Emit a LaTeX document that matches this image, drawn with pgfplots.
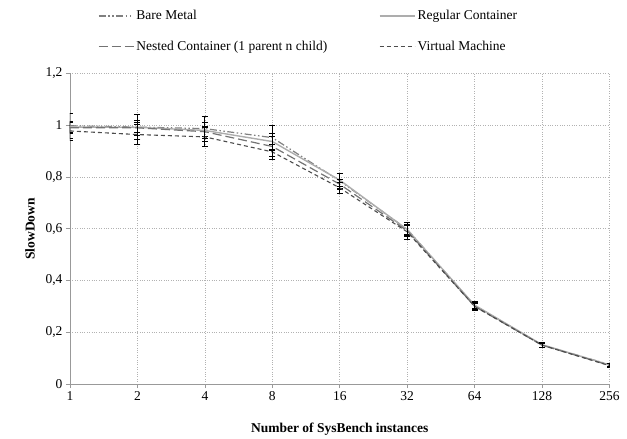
\documentclass[border=0pt]{standalone}
\usepackage{pgfplots}
\usepackage{pgfplotstable}
\pgfplotsset{compat=1.18}
\usepackage{fontspec}
\setmainfont{Liberation Serif}
\newcommand{\fs}{\fontsize{13.5}{16}\selectfont}
\definecolor{bmcol}{gray}{0.5}
\definecolor{rccol}{gray}{0.68}
\definecolor{nccol}{gray}{0.45}
\definecolor{vmcol}{gray}{0.3}
\pgfplotstableread{
x bm bme rc rce nc nce vm vme
0 0.998 0.048 0.993 0.02 0.990 0.02 0.978 0.035
1 0.993 0.047 0.992 0.02 0.990 0.03 0.964 0.038
2 0.987 0.048 0.980 0.03 0.975 0.02 0.955 0.035
3 0.952 0.048 0.937 0.03 0.918 0.04 0.897 0.030
4 0.785 0.030 0.788 0.025 0.772 0.02 0.758 0.022
5 0.598 0.025 0.597 0.02 0.592 0.02 0.588 0.028
6 0.303 0.012 0.305 0.013 0.300 0.012 0.300 0.017
7 0.151 0.008 0.152 0.009 0.150 0.008 0.150 0.010
8 0.075 0.006 0.074 0.006 0.072 0.006 0.071 0.007
}\data
\begin{document}
\begin{tikzpicture}
\begin{axis}[
  scale only axis,
  width=539.5pt, height=310.5pt,
  xmin=0, xmax=8, ymin=0, ymax=1.2,
  xtick={0,...,8},
  xticklabels={1,2,4,8,16,32,64,128,256},
  ytick={0,0.2,0.4,0.6,0.8,1,1.2},
  /pgf/number format/use comma,
  /pgf/number format/assume math mode=true,
  yticklabel style={/pgf/number format/fixed},
  axis x line*=bottom, axis y line*=left,
  axis line style={gray!80, -, line width=0.8pt},
  tick style={gray!80, line width=0.6pt},
  tick align=outside, major tick length=4pt,
  grid=major,
  major grid style={gray!60, dotted, line width=0.7pt},
  ticklabel style={font=\fs},
  xlabel={Number of SysBench instances},
  ylabel={SlowDown},
  label style={font=\fs\bfseries},
  xlabel style={yshift=-15pt},
  ylabel style={yshift=4pt},
  legend columns=2,
  legend cell align=left,
  legend style={draw=none, fill=none, font=\fs, inner sep=0pt,
    at={(0.052,1.0)}, anchor=south west, yshift=19pt,
    row sep=16pt,
    /tikz/every even column/.append style={column sep=50pt}},
  legend image code/.code={\draw[#1] (0pt,0pt) -- (31pt,0pt); \path (0pt,0pt) -- (35pt,0pt);},
  error bars/y dir=both, error bars/y explicit,
  error bars/error bar style={black, line width=1pt, solid},
  error bars/error mark options={rotate=90, mark size=3pt, black, line width=0.8pt, solid},
]
\addplot[bmcol, line width=1.2pt, dash pattern=on 7pt off 2.5pt on 1.5pt off 2.5pt on 1.5pt off 2.5pt]
  table[x=x, y=bm, y error=bme] {\data};
\addlegendentry{Bare Metal}
\addplot[rccol, line width=1.4pt]
  table[x=x, y=rc, y error=rce] {\data};
\addlegendentry{Regular Container}
\addplot[nccol, line width=1.2pt, dash pattern=on 9pt off 4pt]
  table[x=x, y=nc, y error=nce] {\data};
\addlegendentry{Nested Container (1 parent n child)}
\addplot[vmcol, line width=1.1pt, dash pattern=on 4pt off 3pt]
  table[x=x, y=vm, y error=vme] {\data};
\addlegendentry{Virtual Machine}
\end{axis}
\pgfresetboundingbox
\useasboundingbox ([shift={(-70pt,-54pt)}]current axis.south west) rectangle ([shift={(17.5pt,73.5pt)}]current axis.north east);
\end{tikzpicture}
\end{document}
